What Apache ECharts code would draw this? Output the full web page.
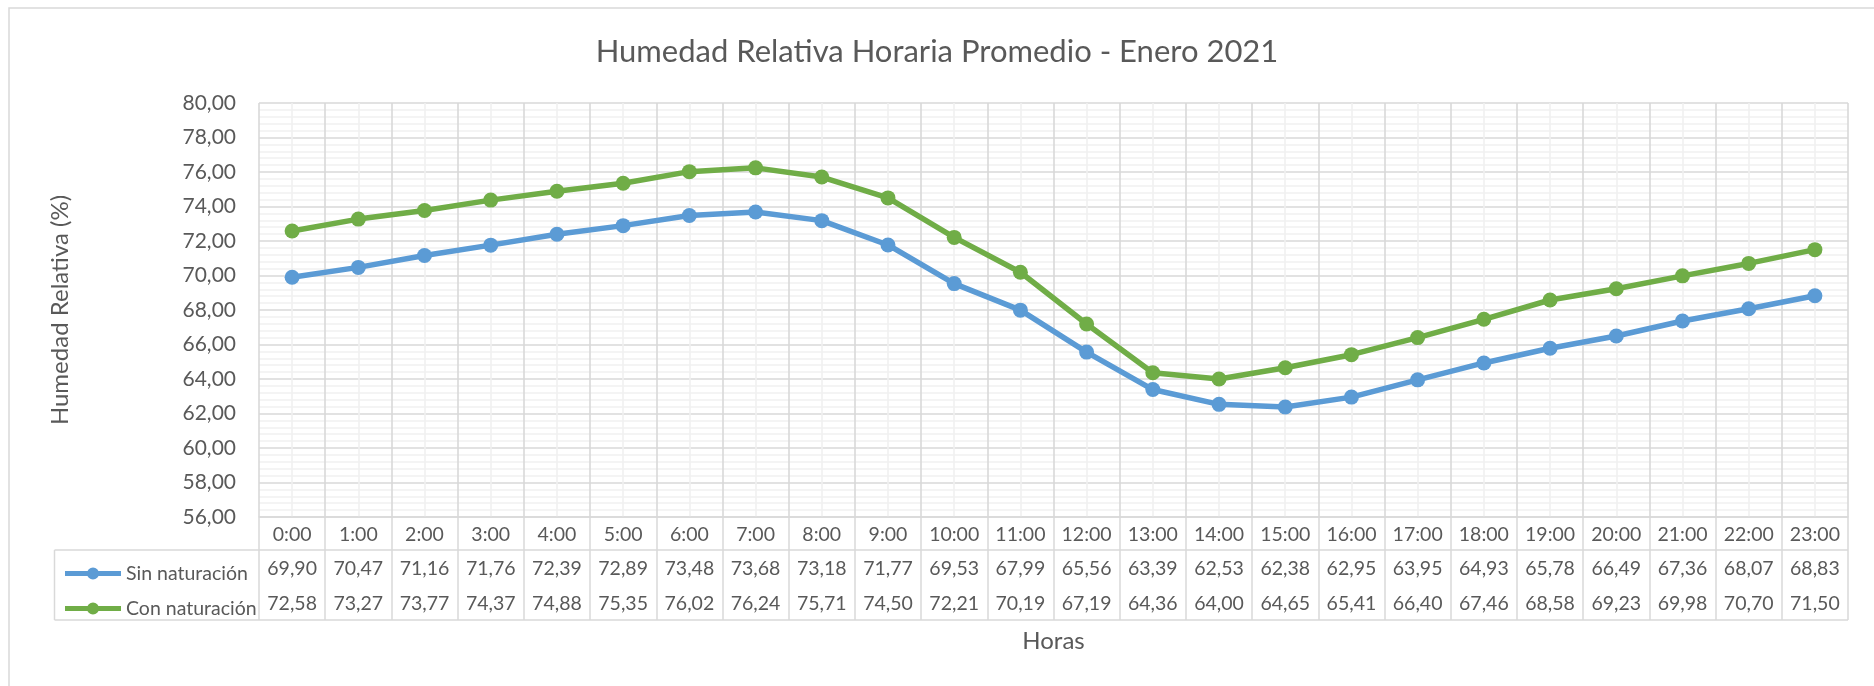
<!DOCTYPE html>
<html>
<head>
<meta charset="utf-8">
<script src="https://cdn.jsdelivr.net/npm/echarts@6/dist/echarts.min.js"></script>
<style>
html,body{margin:0;padding:0;background:#fff;}
#chart{width:1874px;height:686px;}
</style>
</head>
<body>
<div id="chart"></div>
<script>
const title = 'Humedad Relativa Horaria Promedio - Enero 2021';
const categories = ['0:00','1:00','2:00','3:00','4:00','5:00','6:00','7:00','8:00','9:00','10:00','11:00','12:00','13:00','14:00','15:00','16:00','17:00','18:00','19:00','20:00','21:00','22:00','23:00'];
const seriesNames = ['Sin naturación', 'Con naturación'];
const sinValues = [69.90,70.47,71.16,71.76,72.39,72.89,73.48,73.68,73.18,71.77,69.53,67.99,65.56,63.39,62.53,62.38,62.95,63.95,64.93,65.78,66.49,67.36,68.07,68.83];
const conValues = [72.58,73.27,73.77,74.37,74.88,75.35,76.02,76.24,75.71,74.50,72.21,70.19,67.19,64.36,64.00,64.65,65.41,66.40,67.46,68.58,69.23,69.98,70.70,71.50];
const yTicks = {min: 56, max: 80, interval: 2};
const xName = 'Horas';
const yName = 'Humedad Relativa (%)';

const FONT = 'Lato';
const TXT = '#595959';
const MAJOR = '#d9d9d9';
const MINOR = '#f0f0f0';
const W = 1874, H = 686;
const G = {left: 259, right: 26, top: 103, bottom: 169};
const gridBottomY = H - G.bottom;      // 517
const tableTop = 550, tableBottom = 620, tableLeft = 54.5;
const TABLE_FS = 19.5;
const fmt = v => v.toFixed(2).replace('.', ',');
// legend key: thick line with a dot in the middle (Excel style), box 56 x 12
const legendIcon = 'path://M0,3.5 L56,3.5 L56,8.5 L0,8.5 Z M22,6 A6,6 0 1,1 34,6 A6,6 0 1,1 22,6 Z';

const chart = echarts.init(document.getElementById('chart'), null, {renderer: 'canvas'});
chart.setOption({
  animation: false,
  backgroundColor: '#fff',
  title: {
    text: title, left: 'center', top: 31,
    textStyle: {fontFamily: FONT, fontSize: 31, fontWeight: 'normal', color: TXT}
  },
  legend: {
    data: seriesNames,
    icon: legendIcon,
    orient: 'vertical', left: 60, top: 556, itemGap: 10,
    itemWidth: 56, itemHeight: 12,
    itemStyle: {borderWidth: 0},
    lineStyle: {width: 0},
    textStyle: {fontFamily: FONT, fontSize: TABLE_FS, color: TXT, lineHeight: 25},
    selectedMode: false
  },
  grid: {left: G.left, right: G.right, top: G.top, bottom: G.bottom, containLabel: false},
  xAxis: [
    {
      type: 'category', data: categories, boundaryGap: true, position: 'bottom',
      axisLine: {show: true, lineStyle: {color: MAJOR, width: 1.5}},
      axisTick: {show: true, interval: 0, length: tableBottom - gridBottomY, lineStyle: {color: MAJOR, width: 1.5}},
      axisLabel: {interval: 0, margin: 5, fontFamily: FONT, fontSize: TABLE_FS, color: TXT, lineHeight: 25},
      splitLine: {show: false},
      name: xName, nameLocation: 'middle', nameGap: 112,
      nameTextStyle: {fontFamily: FONT, fontSize: 24, color: TXT}
    },
    {
      type: 'category', data: categories, boundaryGap: true, position: 'bottom',
      axisLine: {show: false}, axisTick: {show: false}, splitLine: {show: false},
      axisLabel: {interval: 0, margin: 39, fontFamily: FONT, fontSize: TABLE_FS, color: TXT, lineHeight: 25,
        formatter: (v, i) => fmt(sinValues[i])}
    },
    {
      type: 'category', data: categories, boundaryGap: true, position: 'bottom',
      axisLine: {show: false}, axisTick: {show: false}, splitLine: {show: false},
      axisLabel: {interval: 0, margin: 74, fontFamily: FONT, fontSize: TABLE_FS, color: TXT, lineHeight: 25,
        formatter: (v, i) => fmt(conValues[i])}
    },
    {
      type: 'value', min: 0, max: categories.length, interval: 1, position: 'top',
      axisLine: {show: false}, axisTick: {show: false}, axisLabel: {show: false},
      splitLine: {show: true, lineStyle: {color: MAJOR, width: 1.6}},
      minorTick: {show: false, splitNumber: 2},
      minorSplitLine: {show: true, lineStyle: {color: MINOR, width: 1.6}}
    }
  ],
  yAxis: {
    type: 'value', min: yTicks.min, max: yTicks.max, interval: yTicks.interval,
    axisLine: {show: false}, axisTick: {show: false},
    axisLabel: {margin: 23, fontFamily: FONT, fontSize: 21, color: TXT, formatter: v => fmt(v)},
    splitLine: {show: true, lineStyle: {color: MAJOR, width: 1.6}},
    minorTick: {show: false, splitNumber: 5},
    minorSplitLine: {show: true, lineStyle: {color: MINOR, width: 1.6}},
    name: yName, nameLocation: 'middle', nameGap: 187,
    nameTextStyle: {fontFamily: FONT, fontSize: 24, color: TXT}
  },
  series: [
    {
      name: seriesNames[0], type: 'line', xAxisIndex: 0, data: sinValues,
      symbol: 'circle', symbolSize: 15,
      lineStyle: {color: '#5b9bd5', width: 5.5}, itemStyle: {color: '#5b9bd5'}, z: 3
    },
    {
      name: seriesNames[1], type: 'line', xAxisIndex: 0, data: conValues,
      symbol: 'circle', symbolSize: 15,
      lineStyle: {color: '#70ad47', width: 5.5}, itemStyle: {color: '#70ad47'}, z: 3
    }
  ],
  graphic: [
    {type: 'rect', silent: true, shape: {x: 9, y: 8, width: W, height: H}, style: {fill: null, stroke: MAJOR, lineWidth: 1.5}, z: -1},
    {type: 'line', silent: true, shape: {x1: tableLeft, y1: tableTop, x2: W - G.right, y2: tableTop}, style: {stroke: MAJOR, lineWidth: 1.5}},
    {type: 'line', silent: true, shape: {x1: tableLeft, y1: tableBottom, x2: W - G.right, y2: tableBottom}, style: {stroke: MAJOR, lineWidth: 1.5}},
    {type: 'line', silent: true, shape: {x1: tableLeft, y1: tableTop, x2: tableLeft, y2: tableBottom}, style: {stroke: MAJOR, lineWidth: 1.5}}
  ]
});
</script>
</body>
</html>
